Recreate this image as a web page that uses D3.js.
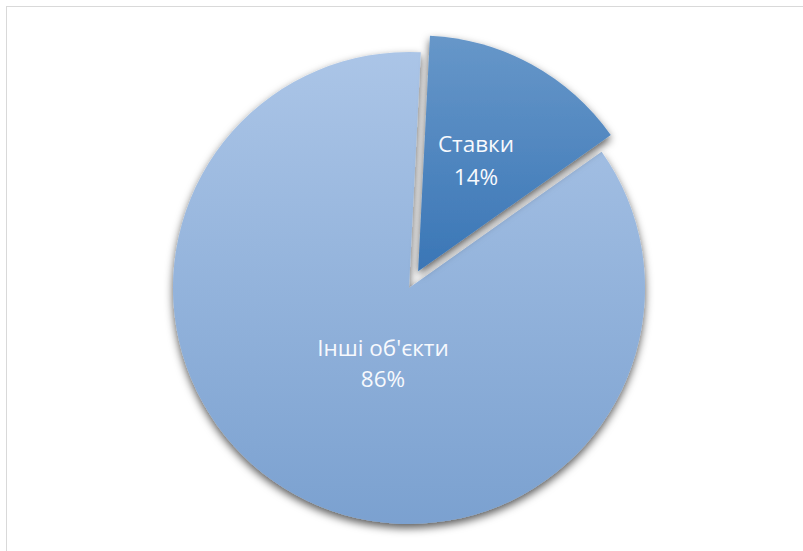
<!DOCTYPE html>
<html>
<head>
<meta charset="utf-8">
<script src="https://cdn.jsdelivr.net/npm/d3@7"></script>
<style>
  html, body { margin: 0; padding: 0; background: #ffffff; }
  svg { display: block; }
</style>
</head>
<body>
<svg id="chart" width="803" height="551"></svg>
<script>
const categories = ["Ставки", "Інші об'єкти"];
const values = [14.4, 85.6];
const pctLabels = ["14%", "86%"];

const W = 803, H = 551;
const cx = 409, cy = 288, R = 236;
const startA = 0.05;
const explode = [19, 0];

const svg = d3.select("#chart");
const defs = svg.append("defs");

const grads = [
  { id: "g0", top: "#6797c9", bottom: "#3a76b6", y1: -R, y2: 0 },
  { id: "g1", top: "#abc5e7", bottom: "#7ba1d0", y1: -R, y2: R }
];
grads.forEach(g => {
  const lg = defs.append("linearGradient").attr("id", g.id)
    .attr("gradientUnits", "userSpaceOnUse")
    .attr("x1", 0).attr("y1", g.y1).attr("x2", 0).attr("y2", g.y2);
  lg.append("stop").attr("offset", "0%").attr("stop-color", g.top);
  lg.append("stop").attr("offset", "100%").attr("stop-color", g.bottom);
});

const f = defs.append("filter").attr("id", "shadow")
  .attr("x", "-20%").attr("y", "-20%").attr("width", "140%").attr("height", "140%");
f.append("feDropShadow").attr("dx", 0).attr("dy", 4).attr("stdDeviation", 4)
  .attr("flood-color", "#000").attr("flood-opacity", 0.65);

// chart frame
svg.append("rect").attr("x", 6.5).attr("y", 6.5)
  .attr("width", W + 20).attr("height", H + 20)
  .attr("fill", "#ffffff").attr("stroke", "#d9d9d9").attr("stroke-width", 1);

const pie = d3.pie().sort(null).startAngle(startA).endAngle(startA + 2 * Math.PI)
  .value(d => d);
const arcs = pie(values);
const arc = d3.arc().innerRadius(0).outerRadius(R);

const g = svg.append("g").attr("transform", `translate(${cx},${cy})`);

const order = [1, 0];
order.forEach(i => {
  const a = arcs[i];
  const mid = (a.startAngle + a.endAngle) / 2;
  const dx = Math.sin(mid) * explode[i], dy = -Math.cos(mid) * explode[i];
  g.append("path")
    .attr("d", arc(a))
    .attr("transform", `translate(${dx},${dy})`)
    .attr("fill", `url(#g${i})`)
    .attr("filter", "url(#shadow)");
});

const labelPos = [[67, -136], [-26, 68]];
const lineGap = [33, 31];
arcs.forEach((a, i) => {
  const t = g.append("text")
    .attr("x", labelPos[i][0]).attr("y", labelPos[i][1])
    .attr("text-anchor", "middle")
    .attr("fill", "#f7f9fd")
    .attr("font-family", "'Open Sans', 'Noto Sans', sans-serif")
    .attr("font-size", 22.5);
  t.append("tspan").attr("x", labelPos[i][0]).attr("dy", 0).text(categories[i]);
  t.append("tspan").attr("x", labelPos[i][0]).attr("dy", lineGap[i]).text(pctLabels[i]);
});
</script>
</body>
</html>
